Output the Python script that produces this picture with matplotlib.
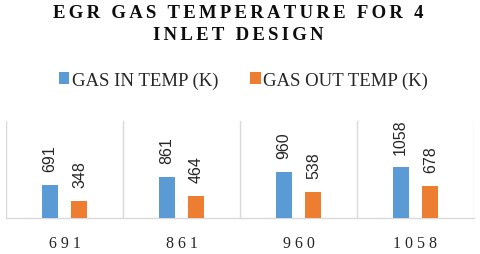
import matplotlib
matplotlib.use("Agg")
import matplotlib.pyplot as plt
import numpy as np

categories = ["691", "861", "960", "1058"]
gas_in = [691, 861, 960, 1058]
gas_out = [348, 464, 538, 678]
series_names = ["GAS IN TEMP (K)", "GAS OUT TEMP (K)"]
title_lines = ["EGR GAS TEMPERATURE FOR 4", "INLET DESIGN"]

BLUE = "#5B9BD5"
ORANGE = "#ED7D31"
GRID = "#D9D9D9"
TXT = "#262626"

SERIF = ["Liberation Serif", "DejaVu Serif"]
SANS = ["Liberation Sans", "DejaVu Sans"]

fig = plt.figure(figsize=(4.8, 2.55), dpi=100)
ax = fig.add_axes([6/480, 1 - 219/255, 468/480, 97/255])

x = np.arange(len(categories))
w = 0.137
off = 0.128
b1 = ax.bar(x - off, gas_in, w, color=BLUE, label=series_names[0], zorder=3)
b2 = ax.bar(x + off, gas_out, w, color=ORANGE, label=series_names[1], zorder=3)

for bars in (b1, b2):
    ax.bar_label(bars, padding=10, rotation=90, fontsize=11.5,
                 family=SANS, color=TXT)

ax.set_xlim(-0.5, len(categories) - 0.5)
ax.set_ylim(0, 2030)
ax.set_yticks([])
ax.set_xticks(x)
ax.set_xticklabels([" ".join(c) for c in categories], family=SERIF,
                   fontsize=11.5, color=TXT)
ax.tick_params(axis="x", length=0, pad=12)
ax.set_xticks(np.arange(-0.5, len(categories), 1), minor=True)
ax.tick_params(axis="x", which="minor", length=0)
ax.grid(True, axis="x", which="minor", color=GRID, linewidth=1, zorder=0)
ax.grid(False, axis="x", which="major")
for s in ("top", "left", "right"):
    ax.spines[s].set_visible(False)
ax.spines["bottom"].set_color(GRID)
ax.spines["bottom"].set_linewidth(1)

sep = "\u200a\u200a"
title = "\n".join(sep.join(line) for line in title_lines)
fig.text(0.496, 1 - 5/255, title, ha="center", va="top", family=SERIF,
         fontweight="bold", fontsize=13.5, color="#0D0D0D", linespacing=1.37)

fig.legend(handles=[b1, b2], labels=series_names, loc="center",
           bbox_to_anchor=(243.5/480, 1 - 81/255), ncol=2, frameon=False,
           prop={"family": SERIF, "size": 13.5}, labelcolor=TXT,
           handlelength=0.55, handleheight=0.55, handletextpad=0.15,
           columnspacing=1.7, borderpad=0)

fig.savefig("out.png", dpi=100)
